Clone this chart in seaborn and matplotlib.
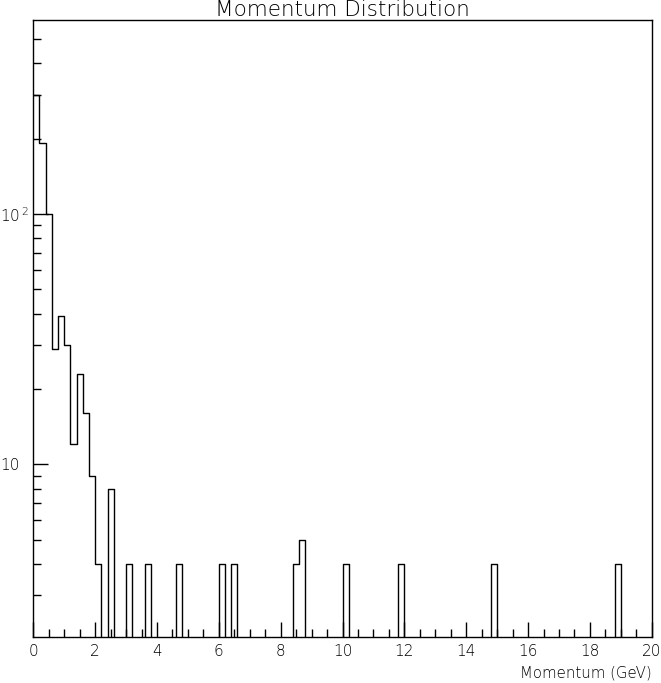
import numpy as np
import pandas as pd
import matplotlib
matplotlib.use("Agg")
import matplotlib.pyplot as plt
import matplotlib.ticker as mticker
import seaborn as sns

# non-empty bins (centers, 0.2 GeV wide) and their entries
bin_centers = [0.1, 0.3, 0.5, 0.7, 0.9, 1.1, 1.3, 1.5, 1.7, 1.9, 2.1, 2.5,
               3.1, 3.7, 4.7, 6.1, 6.5, 8.5, 8.7, 10.1, 11.9, 14.9, 18.9]
bin_counts = [298, 192, 100, 29, 39, 30, 12, 23, 16, 9, 4, 8,
              4, 4, 4, 4, 4, 4, 5, 4, 4, 4, 4]
y_tick_values = [10, 100]
y_tick_labels = ["10", r"$\mathregular{10^{\,2}}$"]

df = pd.DataFrame({"momentum": bin_centers, "entries": bin_counts})

sns.set_theme(style="white")
plt.rcParams["font.family"] = ["DejaVu Sans"]
plt.rcParams["text.color"] = "black"
plt.rcParams["xtick.labelcolor"] = "black"
plt.rcParams["ytick.labelcolor"] = "black"

fig = plt.figure(figsize=(6.61, 6.83), dpi=100)
ax = fig.add_axes([0.0504, 0.0673, 0.9357, 0.9034])

sns.histplot(data=df, x="momentum", weights="entries", binwidth=0.2,
             binrange=(0, 20), element="step", fill=False, color="black",
             linewidth=1.0, ax=ax)
ax.set_yscale("log")

ax.set_xlim(0, 20)
ax.set_ylim(2.04, 596)

# ROOT-like frame and inward ticks
for s in ax.spines.values():
    s.set_color("black")
    s.set_linewidth(1.0)

ax.xaxis.set_major_locator(mticker.MultipleLocator(2))
ax.xaxis.set_minor_locator(mticker.MultipleLocator(0.5))
ax.yaxis.set_major_locator(mticker.FixedLocator(y_tick_values))
ax.yaxis.set_minor_locator(mticker.LogLocator(base=10, subs=np.arange(2, 10)))
ax.yaxis.set_minor_formatter(mticker.NullFormatter())
ax.yaxis.set_major_formatter(mticker.FixedFormatter(y_tick_labels))
ax.xaxis.set_major_formatter(mticker.FormatStrFormatter("%d"))

ax.tick_params(which="both", direction="in", color="black", width=1.0,
               labelcolor="black", top=False, right=False, bottom=True, left=True)
ax.tick_params(which="major", length=11)
ax.tick_params(which="minor", length=5.5)
ax.tick_params(axis="x", which="major", labelsize=11, pad=5)
ax.tick_params(axis="y", which="major", labelsize=11, pad=24)
for lbl in ax.get_yticklabels():
    lbl.set_horizontalalignment("left")
for lbl in ax.get_xticklabels() + ax.get_yticklabels():
    lbl.set_fontweight("light")

ax.set_title("Momentum Distribution", fontsize=15.5, fontweight="light",
             color="black", pad=3)
ax.set_xlabel("Momentum (GeV)", fontsize=10.8, fontweight="light",
              color="black", loc="right", labelpad=5)
ax.set_ylabel("")

fig.savefig("out.png", dpi=100)
